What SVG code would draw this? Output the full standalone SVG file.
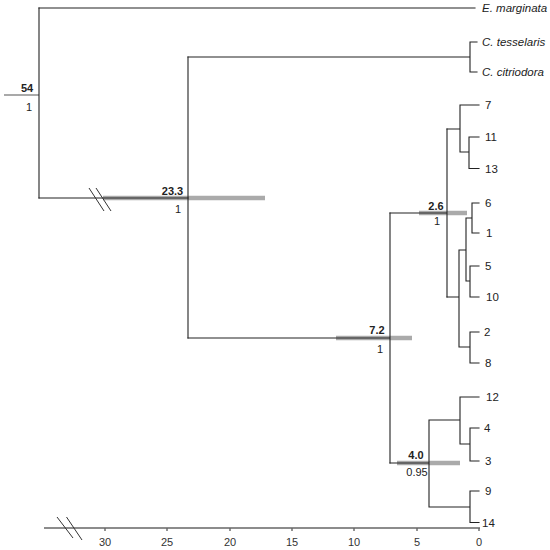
<svg xmlns="http://www.w3.org/2000/svg" width="550" height="550" viewBox="0 0 550 550">
<style>
.br{stroke:#222;stroke-width:1.1;fill:none;stroke-linecap:square}
.bar{stroke:#aaa;stroke-width:4.5;fill:none}
.tip{font-family:"Liberation Sans",Arial,sans-serif;font-size:11.5px;fill:#222}
.sp{font-style:italic}
.age{font-family:"Liberation Sans",Arial,sans-serif;font-size:11px;font-weight:bold;fill:#222;text-anchor:middle}
.pp{font-family:"Liberation Sans",Arial,sans-serif;font-size:11px;fill:#222;text-anchor:middle}
.ax{stroke:#666;stroke-width:1.4;fill:none}
.brk{stroke:#333;stroke-width:1;fill:none}
.axl{font-family:"Liberation Sans",Arial,sans-serif;font-size:11px;fill:#333;text-anchor:middle}
</style>
<rect width="550" height="550" fill="#fff"/>
<g id="hpd-bars">
<line class="bar" x1="103" y1="198" x2="265" y2="198"/>
<line class="bar" x1="336" y1="338" x2="412" y2="338"/>
<line class="bar" x1="419" y1="213" x2="467" y2="213"/>
<line class="bar" x1="397" y1="463" x2="460" y2="463"/>
</g>
<g id="connectors">
<line x1="4" y1="95" x2="39" y2="95" stroke="#555" stroke-width="1.2"/>
<path class="br" d="M39,8 V198"/>
<path class="br" d="M39,8 H475"/>
<path class="br" d="M39,198 H188"/>
<path class="br" d="M188,57 V338"/>
<path class="br" d="M188,57 H470 M470,42 V72 M470,42 H477 M470,72 H477"/>
<path class="br" d="M188,338 H390 M390,213 V463"/>
<path class="br" d="M390,213 H447 M447,129 V297"/>
<path class="br" d="M447,129 H460 M460,105 V152 M460,105 H479 M460,152 H469 M469,137 V168.5 M469,137 H479 M469,168.5 H479"/>
<path class="br" d="M447,297 H459 M459,250 V347 M459,250 H466 M466,218 V281 M466,218 H472 M472,203 V233 M472,203 H479 M472,233 H479 M466,281 H470 M470,266 V297 M470,266 H479 M470,297 H479 M459,347 H470 M470,332 V363 M470,332 H479 M470,363 H479"/>
<path class="br" d="M390,463 H429 M429,420 V507 M429,420 H460 M460,397 V444 M460,397 H479 M460,444 H470 M470,428 V461 M470,428 H479 M470,461 H479 M429,507 H470 M470,491 V522.5 M470,491 H479 M470,522.5 H479"/>
<g id="branch-break">
<line class="brk" x1="89" y1="188" x2="104" y2="211"/>
<line class="brk" x1="96" y1="188" x2="111" y2="211"/>
</g>
</g>
<g id="node-root"><text class="age" x="27" y="92">54</text><text class="pp" x="29" y="111">1</text></g>
<g id="node-23_3"><text class="age" x="172.5" y="195">23.3</text><text class="pp" x="178" y="213">1</text></g>
<g id="node-7_2"><text class="age" x="377" y="334">7.2</text><text class="pp" x="380" y="353">1</text></g>
<g id="node-2_6"><text class="age" x="436" y="210">2.6</text><text class="pp" x="437" y="225">1</text></g>
<g id="node-4_0"><text class="age" x="416" y="459">4.0</text><text class="pp" x="417" y="476">0.95</text></g>
<g id="tip-E-marginata"><text class="tip sp" x="482" y="12">E. marginata</text></g>
<g id="tip-C-tesselaris"><text class="tip sp" x="482" y="46">C. tesselaris</text></g>
<g id="tip-C-citriodora"><text class="tip sp" x="482" y="76">C. citriodora</text></g>
<g id="tip-7"><text class="tip" x="485" y="109">7</text></g>
<g id="tip-11"><text class="tip" x="485" y="141">11</text></g>
<g id="tip-13"><text class="tip" x="485" y="173">13</text></g>
<g id="tip-6"><text class="tip" x="485" y="207">6</text></g>
<g id="tip-1"><text class="tip" x="486" y="237">1</text></g>
<g id="tip-5"><text class="tip" x="485" y="270">5</text></g>
<g id="tip-10"><text class="tip" x="486" y="301">10</text></g>
<g id="tip-2"><text class="tip" x="484" y="336">2</text></g>
<g id="tip-8"><text class="tip" x="485" y="367">8</text></g>
<g id="tip-12"><text class="tip" x="486" y="401">12</text></g>
<g id="tip-4"><text class="tip" x="484" y="432">4</text></g>
<g id="tip-3"><text class="tip" x="485" y="465">3</text></g>
<g id="tip-9"><text class="tip" x="485" y="495">9</text></g>
<g id="tip-14"><text class="tip" x="482" y="527">14</text></g>
<g id="axis">
<line class="ax" x1="44" y1="528" x2="480" y2="528"/>
<path class="ax" stroke-width="1" d="M105,528 V531 M167,528 V531 M230,528 V531 M292,528 V531 M354,528 V531 M417,528 V531 M479,528 V531"/>
<line class="brk" x1="57" y1="517" x2="73" y2="538"/>
<line class="brk" x1="66.5" y1="517" x2="82" y2="540"/>
<text class="axl" x="105" y="546">30</text>
<text class="axl" x="167" y="546">25</text>
<text class="axl" x="230" y="546">20</text>
<text class="axl" x="292" y="546">15</text>
<text class="axl" x="354" y="546">10</text>
<text class="axl" x="417" y="546">5</text>
<text class="axl" x="479" y="546">0</text>
</g>
</svg>
